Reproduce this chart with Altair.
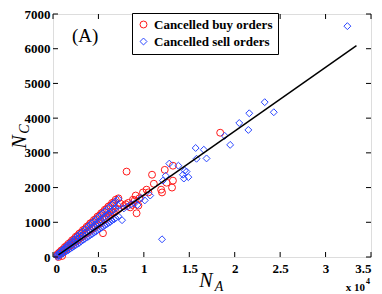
import altair as alt
import pandas as pd

# ---- data (N_A in units of 10^4, N_C raw) ----
buy_x = [0.05, 0.05, 0.07, 0.07, 0.09, 0.09, 0.11, 0.11, 0.13, 0.13, 0.15, 0.15, 0.17, 0.17,
         0.19, 0.19, 0.21, 0.21, 0.23, 0.23, 0.25, 0.25, 0.27, 0.27, 0.29, 0.29, 0.31, 0.31,
         0.33, 0.33, 0.35, 0.35, 0.37, 0.37, 0.39, 0.39, 0.41, 0.41, 0.43, 0.43, 0.45, 0.45,
         0.47, 0.47, 0.49, 0.49, 0.51, 0.51, 0.53, 0.53, 0.55, 0.55, 0.57, 0.57, 0.59, 0.59,
         0.61, 0.61, 0.63, 0.63, 0.65, 0.65, 0.67, 0.67, 0.69, 0.69, 0.72, 0.72, 0.06, 0.10,
         0.74, 0.78, 0.80, 0.81, 0.83, 0.85, 0.87, 0.88, 0.90, 0.91, 0.92, 0.94, 0.95, 0.99,
         1.03, 1.05, 1.09, 1.11, 1.19, 1.20, 1.23, 1.25, 1.31, 1.32, 1.32, 1.84]
buy_y = [85, 50, 130, 90, 185, 125, 220, 170, 285, 205, 320, 250, 380, 285,
         415, 330, 480, 365, 510, 410, 580, 440, 610, 490, 675, 520, 705, 570,
         775, 600, 800, 650, 870, 680, 900, 725, 970, 760, 995, 805, 1065, 840,
         1090, 885, 1165, 915, 1190, 960, 1260, 1000, 1290, 686, 1360, 1080, 1385, 1120,
         1455, 1155, 1480, 1200, 1555, 1235, 1575, 1280, 1650, 1310, 1690, 1380, 0, 30,
         1540, 1470, 1520, 2460, 1560, 1430, 1500, 1650, 1630, 1770, 1260, 1480, 1690, 1860,
         1940, 1860, 2370, 2110, 1940, 1860, 2510, 2140, 2000, 2630, 2200, 3580]

sell_x = [0.05, 0.05, 0.05, 0.07, 0.07, 0.07, 0.09, 0.09, 0.09, 0.11, 0.11, 0.11,
          0.13, 0.13, 0.13, 0.15, 0.15, 0.15, 0.17, 0.17, 0.17, 0.19, 0.19, 0.19,
          0.21, 0.21, 0.21, 0.23, 0.23, 0.23, 0.25, 0.25, 0.25, 0.27, 0.27, 0.27,
          0.29, 0.29, 0.29, 0.31, 0.31, 0.31, 0.33, 0.33, 0.33, 0.35, 0.35, 0.35,
          0.37, 0.37, 0.37, 0.39, 0.39, 0.39, 0.41, 0.41, 0.41, 0.43, 0.43, 0.43,
          0.45, 0.45, 0.45, 0.47, 0.47, 0.47, 0.49, 0.49, 0.49, 0.51, 0.51, 0.51,
          0.53, 0.53, 0.53, 0.55, 0.55, 0.55, 0.57, 0.57, 0.57, 0.59, 0.59, 0.59,
          0.61, 0.61, 0.61, 0.63, 0.63, 0.63, 0.65, 0.65, 0.65, 0.67, 0.67, 0.67,
          0.69, 0.69, 0.69, 0.72, 0.72, 0.72, 0.76, 0.78,
          0.82, 0.86, 0.90, 0.93, 0.97, 1.01, 1.07, 1.20, 1.21, 1.24, 1.28, 1.38, 1.43, 1.44, 1.45,
          1.47, 1.49, 1.57, 1.58, 1.66, 1.69, 1.89, 1.95, 2.05, 2.15, 2.16, 2.33, 2.43, 3.24]
sell_y = [5, 50, 75, 35, 95, 120, 70, 140, 170, 100, 180, 220,
          140, 230, 260, 170, 265, 315, 200, 310, 355, 240, 350, 410,
          270, 400, 450, 310, 430, 505, 340, 485, 545, 380, 520, 600,
          410, 570, 640, 450, 600, 700, 490, 650, 735, 520, 695, 790,
          560, 730, 840, 590, 780, 880, 630, 815, 940, 660, 865, 975,
          700, 900, 1030, 730, 950, 1070, 770, 985, 1130, 800, 1035, 1165,
          840, 1070, 1225, 870, 1120, 1260, 910, 1150, 1320, 940, 1205, 1355,
          980, 1240, 1420, 1010, 1290, 1450, 1050, 1320, 1515, 1080, 1375, 1545,
          1120, 1405, 1610, 1170, 1480, 1670, 1060, 1400,
          1450, 1520, 1550, 1500, 1700, 1630, 1770, 510, 2200, 2340, 2690, 2630, 2370, 2260, 2490,
          2460, 2300, 3140, 2830, 3090, 2840, 3490, 3230, 3860, 3660, 4140, 4460, 4170, 6650]

fit_x = [0.06, 3.34]
fit_y = [60, 6090]

series_names = ["Cancelled buy orders", "Cancelled sell orders"]
x_ticks = [0, 0.5, 1, 1.5, 2, 2.5, 3, 3.5]
y_ticks = [0, 1000, 2000, 3000, 4000, 5000, 6000, 7000]

W, H = 318, 243
FONT = "Liberation Serif"

pts = pd.DataFrame({
    "x": buy_x + sell_x,
    "y": buy_y + sell_y,
    "series": [series_names[0]] * len(buy_x) + [series_names[1]] * len(sell_x),
})
fit = pd.DataFrame({"x": fit_x, "y": fit_y})

xs = alt.Scale(domain=[0, 3.5], nice=False, zero=False)
ys = alt.Scale(domain=[0, 7000], nice=False, zero=False)
axis_style = dict(title=None, domain=False, ticks=False, grid=False,
                  labelFont=FONT, labelFontSize=13, labelFontWeight="bold",
                  labelColor="black")
ax_x = alt.Axis(values=x_ticks, format="~g", labelPadding=5, **axis_style)
ax_y = alt.Axis(values=y_ticks, format="d", labelPadding=3, **axis_style)

leg = alt.Legend(title=None, orient="none", legendX=79, legendY=-1,
                 fillColor="white", strokeColor="black", padding=5,
                 labelFont=FONT, labelFontSize=13, labelFontWeight="bold",
                 labelColor="black", symbolStrokeWidth=1, symbolSize=48,
                 rowPadding=3, labelLimit=300)

points = alt.Chart(pts).mark_point(filled=False, strokeWidth=1, size=48, opacity=1).encode(
    x=alt.X("x:Q", scale=xs, axis=ax_x),
    y=alt.Y("y:Q", scale=ys, axis=ax_y),
    color=alt.Color("series:N",
                    scale=alt.Scale(domain=series_names, range=["#ff1a1a", "#2a46ff"]),
                    legend=leg),
    shape=alt.Shape("series:N",
                    scale=alt.Scale(domain=series_names, range=["circle", "diamond"]),
                    legend=leg),
)

line = alt.Chart(fit).mark_line(color="black", strokeWidth=1.5).encode(
    x=alt.X("x:Q", scale=xs, axis=ax_x),
    y=alt.Y("y:Q", scale=ys, axis=ax_y),
)

xt = pd.DataFrame({"x": x_ticks})
yt = pd.DataFrame({"y": y_ticks})
tick_b = alt.Chart(xt).mark_rule(color="black", strokeWidth=1).encode(
    x=alt.X("x:Q", scale=xs, axis=ax_x), y=alt.value(H - 5), y2=alt.value(H))
tick_t = alt.Chart(xt).mark_rule(color="black", strokeWidth=1).encode(
    x=alt.X("x:Q", scale=xs, axis=ax_x), y=alt.value(0), y2=alt.value(5))
tick_l = alt.Chart(yt).mark_rule(color="black", strokeWidth=1).encode(
    y=alt.Y("y:Q", scale=ys, axis=ax_y), x=alt.value(0), x2=alt.value(5))
tick_r = alt.Chart(yt).mark_rule(color="black", strokeWidth=1).encode(
    y=alt.Y("y:Q", scale=ys, axis=ax_y), x=alt.value(W - 5), x2=alt.value(W))


def label(text, x, y, size, **kw):
    return alt.Chart(pd.DataFrame({"t": [text]})).mark_text(
        font=FONT, fontSize=size, color="black", **kw
    ).encode(text="t:N", x=alt.value(x), y=alt.value(y))


panel = label("(A)", 19, 28, 19, align="left", baseline="alphabetic")
yN = label("N", -27, 128, 20, fontStyle="italic", angle=270, align="center", baseline="alphabetic")
yC = label("C", -24, 115, 14, fontStyle="italic", angle=270, align="center", baseline="alphabetic")
xN = label("N", 153, 273, 20, fontStyle="italic", align="center", baseline="alphabetic")
xA = label("A", 166, 277, 14, fontStyle="italic", align="center", baseline="alphabetic")
x10 = label("x 10", 312, 277, 11, fontWeight="bold", align="right", baseline="alphabetic")
x4 = label("4", 313, 270, 8, fontWeight="bold", align="left", baseline="alphabetic")

chart = alt.layer(points, line, tick_b, tick_t, tick_l, tick_r,
                  panel, yN, yC, xN, xA, x10, x4).properties(
    width=W, height=H, autosize="none",
    padding={"left": 45, "top": 6, "right": 3, "bottom": 36},
).configure_view(stroke="black", strokeWidth=1.2).configure(background="white")

chart.save("out.html", embed_options={"renderer": "svg", "actions": False})
